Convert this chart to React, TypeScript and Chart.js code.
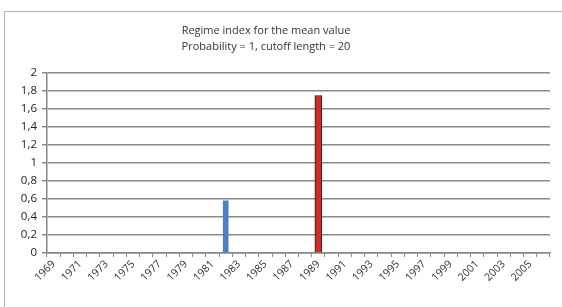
import React, { useEffect, useRef } from "react";
import { Chart, registerables } from "chart.js";

Chart.register(...registerables);

const years: string[] = [];
for (let y = 1969; y <= 2006; y++) years.push(String(y));

const regimeYearsBlue = ["1982"];
const regimeValuesBlue = [0.58];
const regimeYearsRed = ["1989"];
const regimeValuesRed = [1.75];

const titleLines = ["Regime index for the mean value", "Probability = 1, cutoff length = 20"];
const yTicks = [0, 0.2, 0.4, 0.6, 0.8, 1, 1.2, 1.4, 1.6, 1.8, 2];

const FONT = "'Open Sans', 'Noto Sans', sans-serif";

export default function App() {
  const ref = useRef<HTMLCanvasElement | null>(null);
  useEffect(() => {
    if (!ref.current) return;
    const blue = years.map((y) => {
      const i = regimeYearsBlue.indexOf(y);
      return i >= 0 ? regimeValuesBlue[i] : null;
    });
    const red = years.map((y) => {
      const i = regimeYearsRed.indexOf(y);
      return i >= 0 ? regimeValuesRed[i] : null;
    });
    const titlePlugin = {
      id: "customTitle",
      afterDraw(chart: any) {
        const ctx = chart.ctx;
        ctx.save();
        ctx.fillStyle = "#333";
        ctx.font = `11px ${FONT}`;
        ctx.textAlign = "center";
        ctx.textBaseline = "middle";
        ctx.fillText(titleLines[0], 266, 31);
        ctx.fillText(titleLines[1], 266, 47);
        ctx.restore();
      },
    };
    const chart = new Chart(ref.current, {
      type: "bar",
      data: {
        labels: years,
        datasets: [
          {
            label: "Regime 1",
            data: blue,
            backgroundColor: "#4f81bd",
            borderWidth: 0,
            barThickness: 5,
            grouped: false,
          } as any,
          {
            label: "Regime 2",
            data: red,
            backgroundColor: "#c8302a",
            borderColor: "#2a1a1a",
            borderWidth: 1,
            barThickness: 7,
            grouped: false,
          } as any,
        ],
      },
      options: {
        animation: false,
        responsive: false,
        layout: { padding: { top: 73, left: 0, right: 12, bottom: 0 } },
        plugins: {
          legend: { display: false },
          tooltip: { enabled: false },
          title: { display: false },
        },
        scales: {
          x: {
            grid: {
              display: true,
              drawOnChartArea: false,
              color: "#888",
              tickLength: 4,
              tickColor: "#888",
            },
            border: { color: "#888", width: 1.5 },
            ticks: {
              autoSkip: false,
              maxRotation: 45,
              minRotation: 45,
              padding: 1,
              color: "#333",
              font: { family: FONT, size: 10.5 },
              callback: (_v: any, i: number) => (i % 2 === 0 ? years[i] : ""),
            },
            afterFit: (s: any) => {
              s.height = 54;
            },
          },
          y: {
            min: 0,
            max: 2,
            afterBuildTicks: (s: any) => {
              s.ticks = yTicks.map((v) => ({ value: v }));
            },
            grid: {
              color: "#8a8a8a",
              lineWidth: 1.5,
              tickLength: 5,
              tickColor: "#8a8a8a",
            },
            border: { color: "#888", width: 1.5 },
            ticks: {
              padding: 5,
              color: "#222",
              font: { family: FONT, size: 11.5 },
              callback: (v: any) => String(Number(v).toFixed(1).replace(/\.0$/, "")).replace(".", ","),
            },
            afterFit: (s: any) => {
              s.width = 47;
            },
          },
        },
      },
      plugins: [titlePlugin],
    });
    return () => chart.destroy();
  }, []);
  return (
    <div style={{ position: "fixed", left: 0, top: 0, width: 562, height: 307, background: "#fff", overflow: "hidden" }}>
      <div
        style={{
          position: "absolute",
          left: 4,
          top: 11,
          width: 600,
          height: 400,
          border: "1.5px solid #b5b5b5",
          boxSizing: "border-box",
        }}
      />
      <canvas ref={ref} width={562} height={307} style={{ position: "absolute", left: 0, top: 0 }} />
    </div>
  );
}
